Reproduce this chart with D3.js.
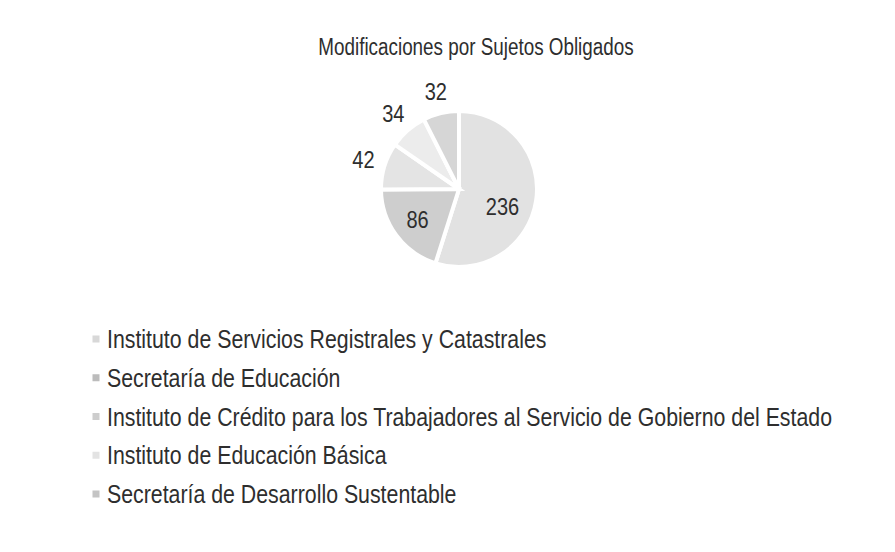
<!DOCTYPE html>
<html>
<head>
<meta charset="utf-8">
<script src="https://cdn.jsdelivr.net/npm/d3@7"></script>
<style>
  body { margin: 0; background: #fff; }
  svg text { font-family: "Liberation Sans", Arial, sans-serif; fill: #2e2e2e; }
</style>
</head>
<body>
<svg id="chart" width="895" height="552"></svg>
<script>
var title = "Modificaciones por Sujetos Obligados";
var categories = [
  "Instituto de Servicios Registrales y Catastrales",
  "Secretaría de Educación",
  "Instituto de Crédito para los Trabajadores al Servicio de Gobierno del Estado",
  "Instituto de Educación Básica",
  "Secretaría de Desarrollo Sustentable"
];
var values = [236, 86, 42, 34, 32];
var colors = ["#e2e2e2", "#cecece", "#e4e4e4", "#ececec", "#d6d6d6"];
var markerColors = ["#d8d8d8", "#bcbcbc", "#cdcdcd", "#e3e3e3", "#c4c4c4"];

// no narrow font installed, so squeeze a regular sans horizontally
var narrow = 0.82;

var svg = d3.select("#chart");

svg.append("text")
    .attr("transform", `translate(476,55) scale(${narrow},1)`)
    .attr("text-anchor", "middle")
    .style("font-size", "23px")
    .text(title);

var cx = 459, cy = 189, r = 78;
var pie = d3.pie().sort(null).value(d => d);
var arcs = pie(values);
var arc = d3.arc().innerRadius(0).outerRadius(r);

var g = svg.append("g").attr("transform", `translate(${cx},${cy})`);

g.selectAll("path")
  .data(arcs)
  .join("path")
    .attr("d", arc)
    .attr("fill", (d, i) => colors[i])
    .attr("stroke", "#fff")
    .attr("stroke-width", 4)
    .attr("stroke-linejoin", "miter");

// big slices labelled inside, small ones just outside the rim
var inner = d3.arc().innerRadius(r * 0.66).outerRadius(r * 0.66);
var outer = d3.arc().innerRadius(r + 22).outerRadius(r + 22);
g.selectAll("text")
  .data(arcs)
  .join("text")
    .attr("transform", (d, i) => {
      var p = (i < 2 ? inner : outer).centroid(d);
      if (i == 0) p = d3.arc().innerRadius(r * 0.6).outerRadius(r * 0.6)
        .centroid({startAngle: d.startAngle, endAngle: d.endAngle + 0.45});
      return `translate(${p[0]},${p[1]}) scale(${narrow + 0.05},1)`;
    })
    .attr("text-anchor", "middle")
    .attr("dy", "0.36em")
    .style("font-size", "23px")
    .text(d => d.data);

var y = d3.scalePoint().domain(d3.range(categories.length)).range([339, 494]);

var leg = svg.append("g").selectAll("g")
  .data(categories)
  .join("g")
    .attr("transform", (d, i) => `translate(96,${y(i)})`);

leg.append("rect")
    .attr("x", -3.5).attr("y", -3.5)
    .attr("width", 7).attr("height", 7)
    .attr("fill", (d, i) => markerColors[i]);

leg.append("text")
    .attr("transform", `translate(11,0) scale(${narrow},1)`)
    .attr("dy", "0.35em")
    .style("font-size", "26px")
    .text(d => d);
</script>
</body>
</html>
